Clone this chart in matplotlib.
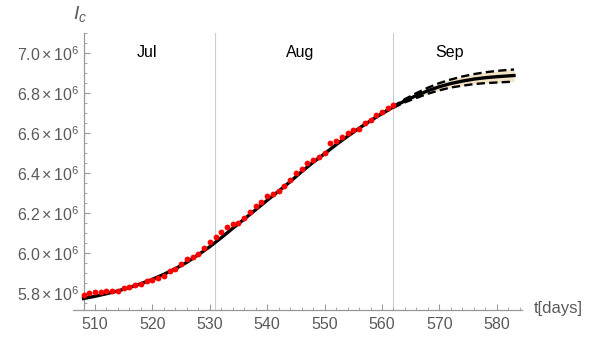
import matplotlib
matplotlib.use('Agg')
import matplotlib.pyplot as plt
from matplotlib.ticker import MultipleLocator, FuncFormatter

plt.rcParams['font.family'] = ['Liberation Sans', 'DejaVu Sans']
plt.rcParams['mathtext.fontset'] = 'custom'
plt.rcParams['mathtext.rm'] = 'Liberation Sans'
plt.rcParams['mathtext.it'] = 'Liberation Sans:italic'

# daily data (millions)
giorni = list(range(508, 563))
casi = [5.788, 5.797, 5.802, 5.802, 5.810, 5.810, 5.810, 5.822, 5.829, 5.839,
        5.844, 5.857, 5.866, 5.875, 5.886, 5.908, 5.921, 5.945, 5.967, 5.981,
        5.994, 6.022, 6.055, 6.080, 6.105, 6.127, 6.143, 6.151, 6.176, 6.205,
        6.235, 6.255, 6.283, 6.296, 6.310, 6.333, 6.365, 6.397, 6.419, 6.447,
        6.466, 6.480, 6.500, 6.547, 6.558, 6.580, 6.597, 6.613, 6.620, 6.647,
        6.666, 6.688, 6.705, 6.722, 6.738]

# fitted curve
giorni_fit = [508, 510, 512, 514, 516, 518, 520, 522, 524, 526, 528, 530, 532,
              534, 536, 538, 540, 542, 544, 546, 548, 550, 552, 554, 556, 558,
              560, 562, 564, 566, 568, 570, 572, 574, 576, 578, 580, 582, 583]
fit = [5.771, 5.782, 5.795, 5.809, 5.826, 5.845, 5.867, 5.892, 5.920, 5.952,
       5.990, 6.030, 6.075, 6.122, 6.168, 6.215, 6.262, 6.308, 6.355, 6.405,
       6.452, 6.495, 6.540, 6.582, 6.622, 6.660, 6.696, 6.729, 6.760, 6.786,
       6.810, 6.830, 6.846, 6.858, 6.868, 6.875, 6.880, 6.884, 6.886]

# confidence band
giorni_banda = [560, 562, 564, 566, 568, 570, 572, 574, 576, 578, 580, 582, 583]
banda_sup = [6.698, 6.733, 6.768, 6.798, 6.825, 6.848, 6.866, 6.881, 6.893,
             6.902, 6.909, 6.914, 6.916]
banda_inf = [6.694, 6.725, 6.752, 6.774, 6.795, 6.812, 6.826, 6.835, 6.843,
             6.848, 6.851, 6.854, 6.856]

mesi = ['Jul', 'Aug', 'Sep']
mesi_x = [519, 545.7, 571.8]
separatori = [530.9, 561.9]

M = 1e6
fig = plt.figure(figsize=(6.01, 3.40), dpi=100)
ax = fig.add_axes([73 / 601, 1 - 310 / 340, (522 - 73) / 601, (310 - 32.7) / 340])

ax.set_xlim(506.17, 584.39)
ax.set_ylim(5.7135 * M, 7.1 * M)

for s in separatori:
    ax.axvline(s, color='#cccccc', lw=0.8, zorder=1)

ax.fill_between(giorni_banda, [v * M for v in banda_inf], [v * M for v in banda_sup],
                color='#f3e3c6', lw=0, zorder=2)
ax.plot(giorni_banda, [v * M for v in banda_sup], color='black', lw=1.7,
        dashes=(3.5, 1.8), zorder=3)
ax.plot(giorni_banda, [v * M for v in banda_inf], color='black', lw=1.7,
        dashes=(3.5, 1.8), zorder=3)
ax.plot(giorni_fit, [v * M for v in fit], color='black', lw=2.4, zorder=4)
ax.plot(giorni, [v * M for v in casi], 'o', color='red', ms=4.2, mec='none', zorder=5)

for m, x in zip(mesi, mesi_x):
    ax.text(x, 7.0 * M, m, ha='center', va='center', fontsize=11.5, color='black')

# axes in stile Mathematica
ax.spines['top'].set_visible(False)
ax.spines['right'].set_visible(False)
ax.spines['left'].set_position(('data', 508))
for sp in ['left', 'bottom']:
    ax.spines[sp].set_color('#999999')
    ax.spines[sp].set_linewidth(0.9)

ax.xaxis.set_minor_locator(MultipleLocator(2))
ax.yaxis.set_minor_locator(MultipleLocator(0.05 * M))
ax.set_xticks(range(510, 590, 10))
ax.yaxis.set_major_formatter(FuncFormatter(
    lambda v, p: r'$\mathregular{%.1f\times10^{6}}$' % (v / M)))
ax.set_yticks([5.8 * M, 6.0 * M, 6.2 * M, 6.4 * M, 6.6 * M, 6.8 * M, 7.0 * M])

ax.tick_params(which='both', direction='in', color='#999999', labelcolor='#5a5a5a',
               labelsize=11.5)
ax.tick_params(which='major', length=4, width=0.8)
ax.tick_params(which='minor', length=2.5, width=0.6)
ax.tick_params(axis='x', pad=5)
ax.tick_params(axis='y', pad=3)

fig.text(80 / 601, 1 - 14 / 340, r'$I_c$', fontsize=14, color='#5a5a5a',
         ha='center', va='center')
fig.text(534 / 601, 1 - 309 / 340, 't[days]', fontsize=12, color='#5a5a5a',
         ha='left', va='center')

fig.savefig('out.png', dpi=100)
